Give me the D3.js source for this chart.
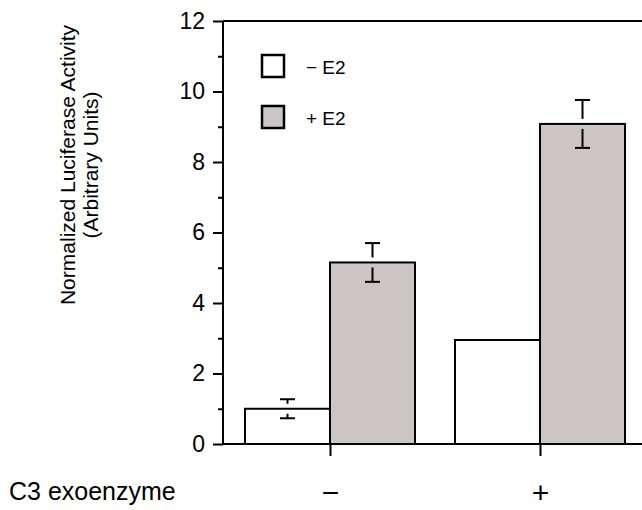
<!DOCTYPE html>
<html>
<head>
<meta charset="utf-8">
<script src="https://cdn.jsdelivr.net/npm/d3@7"></script>
<style>
  html, body { margin: 0; padding: 0; background: #fff; }
  text { font-family: "Liberation Sans", Arial, Helvetica, sans-serif; fill: #000; }
</style>
</head>
<body>
<svg id="chart" width="642" height="510"></svg>
<script>
// ---- data ----
const groups = ["−", "+"];              // C3 exoenzyme
const series = ["− E2", "+ E2"];
const minusE2 = [1.0, 2.95];
const plusE2 = [5.15, 9.08];
const minusE2Err = [0.27, 0];
const plusE2Err = [0.55, 0.68];
const yTicks = [0, 2, 4, 6, 8, 10, 12];
const yMinorTicks = [1, 3, 5, 7, 9, 11];
const colors = ["#ffffff", "#cdc5c5"];

const svg = d3.select("#chart");
const yBase = 444, yTop = 21, xLeft = 223, xRight = 680;

const y = d3.scaleLinear().domain([0, 12]).range([yBase, yTop]);
const x0 = d3.scaleBand().domain(groups).range([225, 645])
  .paddingInner(40 / 210).paddingOuter(0.0952);
const x1 = d3.scaleBand().domain(series).range([0, x0.bandwidth()]);

const data = [];
groups.forEach((g, i) => {
  data.push({ g, s: series[0], v: minusE2[i], e: minusE2Err[i] });
  data.push({ g, s: series[1], v: plusE2[i], e: plusE2Err[i] });
});

// bars
svg.append("g").selectAll("rect").data(data).join("rect")
  .attr("x", d => x0(d.g) + x1(d.s))
  .attr("y", d => y(d.v))
  .attr("width", x1.bandwidth())
  .attr("height", d => y(0) - y(d.v))
  .attr("fill", d => colors[series.indexOf(d.s)])
  .attr("stroke", "#000").attr("stroke-width", 2);

// error bars (with small gap around bar top)
const gap = 5, capW = 15;
const eb = svg.append("g").attr("stroke", "#000").attr("stroke-width", 2).attr("fill", "none");
data.filter(d => d.e > 0).forEach(d => {
  const cx = x0(d.g) + x1(d.s) + x1.bandwidth() / 2;
  const yt = y(d.v + d.e), yb = y(d.v - d.e), yv = y(d.v);
  eb.append("line").attr("x1", cx - capW / 2).attr("x2", cx + capW / 2).attr("y1", yt).attr("y2", yt);
  eb.append("line").attr("x1", cx).attr("x2", cx).attr("y1", yt).attr("y2", Math.max(yt, yv - gap));
  eb.append("line").attr("x1", cx - capW / 2).attr("x2", cx + capW / 2).attr("y1", yb).attr("y2", yb);
  eb.append("line").attr("x1", cx).attr("x2", cx).attr("y1", Math.min(yb, yv + gap)).attr("y2", yb);
});

// frame: left axis, top and bottom lines
const fr = svg.append("g").attr("stroke", "#000").attr("stroke-width", 2);
fr.append("line").attr("x1", xLeft).attr("x2", xLeft).attr("y1", yTop).attr("y2", yBase);
fr.append("line").attr("x1", xLeft).attr("x2", xRight).attr("y1", yTop).attr("y2", yTop);
fr.append("line").attr("x1", xLeft).attr("x2", xRight).attr("y1", yBase).attr("y2", yBase);

// y axis
const yAxis = d3.axisLeft(y).tickValues(yTicks).tickSize(10).tickPadding(8).tickFormat(d3.format("d"));
const gy = svg.append("g").attr("transform", `translate(${xLeft},0)`).call(yAxis);
gy.select(".domain").remove();
gy.selectAll(".tick line").attr("stroke", "#000").attr("stroke-width", 2);
gy.selectAll(".tick text").style("font-size", "23px").attr("font-family", null);
const yMinor = d3.axisLeft(y).tickValues(yMinorTicks).tickSize(5).tickFormat("");
const gym = svg.append("g").attr("transform", `translate(${xLeft},0)`).call(yMinor);
gym.select(".domain").remove();
gym.selectAll(".tick line").attr("stroke", "#000").attr("stroke-width", 2);

// x axis ticks + labels
const xCenter = d3.scalePoint().domain(groups).range([x0(groups[0]) + x0.bandwidth() / 2, x0(groups[1]) + x0.bandwidth() / 2]);
const xAxis = d3.axisBottom(xCenter).tickSize(12);
const gx = svg.append("g").attr("transform", `translate(0,${yBase})`).call(xAxis);
gx.select(".domain").remove();
gx.selectAll(".tick line").attr("stroke", "#000").attr("stroke-width", 2);
gx.selectAll(".tick text").style("font-size", "30px").attr("font-family", null)
  .attr("y", 59).attr("dy", 0);

svg.append("text").attr("x", 9).attr("y", 500).style("font-size", "25px").text("C3 exoenzyme");

// y title
const yt = svg.append("text").attr("transform", "translate(75,165) rotate(-90)")
  .attr("text-anchor", "middle").style("font-size", "21px");
yt.append("tspan").attr("x", 0).attr("y", 0).text("Normalized Luciferase Activity");
yt.append("tspan").attr("x", 0).attr("y", 23).text("(Arbitrary Units)");

// legend
const leg = svg.append("g");
series.forEach((s, i) => {
  const ly = 55 + i * 51;
  leg.append("rect").attr("x", 262).attr("y", ly).attr("width", 22).attr("height", 22)
    .attr("fill", colors[i]).attr("stroke", "#000").attr("stroke-width", 2.5);
  leg.append("text").attr("x", 306).attr("y", ly + 19).style("font-size", "19px").text(s);
});
</script>
</body>
</html>
